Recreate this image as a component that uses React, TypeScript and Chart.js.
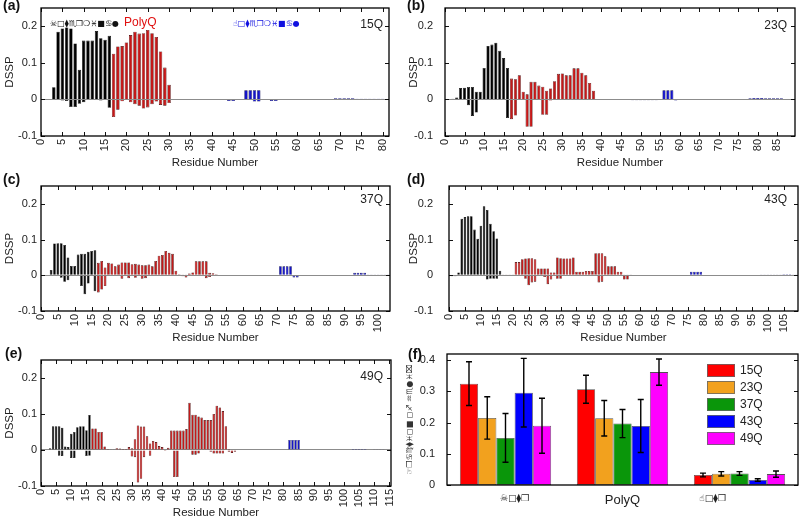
import React, { useEffect, useRef } from "react";
import { Chart, registerables } from "chart.js";
Chart.register(...registerables);

const SANS = "'Liberation Sans', Arial, Helvetica, sans-serif";
const SYM = "'DejaVu Sans', 'Liberation Sans', sans-serif";

// ---------------- DATA ----------------
// Residue counts of each construct (x axis runs to count + 0.5)
const N15 = 81;
const N23 = 89;
const N37 = 103;
const N43 = 109;
const N49 = 115;

// DSSP per residue, residue 1 first. pos = positive part, neg = negative part
const pos15 = [0, 0, 0.033, 0.185, 0.194, 0.197, 0.194, 0.153, 0.081, 0.161,
  0.161, 0.161, 0.187, 0.167, 0.163, 0.174, 0.125, 0.145, 0.146, 0.156,
  0.176, 0.185, 0.18, 0.181, 0.19, 0.181, 0.171, 0.131, 0.087, 0.04,
  0.001, 0, 0, 0, 0, 0, 0, 0, 0, 0,
  0, 0, 0, 0, 0, 0, 0, 0.025, 0.025, 0.025,
  0.025, 0, 0, 0, 0, 0, 0, 0, 0, 0,
  0, 0, 0, 0, 0, 0, 0, 0, 0.003, 0.003,
  0.003, 0.003, 0.003, 0.002, 0.002, 0.002, 0.002, 0.002, 0.002, 0.002];
const neg15 = [0, 0, 0, 0, -0.003, -0.004, -0.021, -0.021, -0.012, -0.008,
  0, 0, 0, -0.003, 0, -0.023, -0.048, -0.028, -0.005, 0,
  -0.008, -0.013, -0.017, -0.025, -0.022, -0.013, -0.006, -0.015, -0.017, -0.01,
  0, 0, 0, 0, 0, 0, 0, 0, 0, 0,
  0, 0, 0, -0.004, -0.004, 0, 0, 0, 0, -0.006,
  -0.006, 0, 0, -0.004, -0.004];

const pos23 = [0, 0.002, 0.005, 0.031, 0.032, 0.034, 0.034, 0.021, 0.021, 0.086,
  0.146, 0.15, 0.155, 0.133, 0.113, 0.086, 0.057, 0.055, 0.066, 0.021,
  0.014, 0.048, 0.048, 0.038, 0.035, 0.024, 0.03, 0.05, 0.07, 0.071,
  0.066, 0.066, 0.085, 0.085, 0.073, 0.066, 0.045, 0.024, 0, 0,
  0, 0, 0, 0, 0, 0, 0, 0, 0, 0,
  0, 0, 0, 0, 0, 0.025, 0.025, 0.025, 0, 0,
  0, 0, 0, 0, 0, 0, 0, 0, 0, 0,
  0, 0, 0, 0, 0, 0, 0, 0.003, 0.004, 0.004,
  0.004, 0.003, 0.003, 0.003, 0.003, 0.003];
const neg23 = [0, 0, 0, 0, 0, -0.016, -0.045, -0.036, 0, 0,
  0, 0, 0, 0, 0, -0.051, -0.054, -0.044, 0, 0,
  -0.075, -0.075, 0, 0, -0.042, -0.042, -0.003, 0, 0, 0,
  0, 0, 0, 0, 0, 0, 0, 0, 0, 0,
  0, 0, 0, 0, 0, 0, 0, -0.002, -0.002, -0.002,
  -0.002, -0.002, -0.002, -0.002, 0, 0, 0, 0, -0.003];

const pos37 = [0, 0, 0.015, 0.089, 0.09, 0.09, 0.085, 0.05, 0.026, 0.026,
  0.058, 0.06, 0.06, 0.066, 0.068, 0.07, 0.035, 0.04, 0.022, 0.035,
  0.033, 0.025, 0.03, 0.036, 0.036, 0.036, 0.031, 0.032, 0.03, 0.028,
  0.028, 0.03, 0.025, 0.04, 0.055, 0.057, 0.068, 0.063, 0.06, 0.013,
  0.003, 0.002, 0.002, 0.005, 0.008, 0.039, 0.039, 0.039, 0.039, 0.007,
  0.006, 0.003, 0, 0, 0, 0, 0, 0, 0, 0,
  0, 0, 0, 0, 0, 0, 0, 0, 0, 0,
  0.025, 0.025, 0.025, 0.025, 0, 0, 0, 0, 0, 0,
  0, 0, 0, 0, 0, 0, 0, 0, 0, 0,
  0, 0, 0.007, 0.007, 0.007, 0.007, 0.002, 0.002, 0.002, 0.002,
  0.002, 0.002, 0.002];
const neg37 = [0, 0, 0, 0, 0, -0.007, -0.018, -0.014, 0, 0,
  0, -0.03, -0.053, -0.023, 0, -0.045, -0.048, -0.04, -0.03, 0,
  0, 0, 0, -0.01, 0, -0.008, 0, -0.007, 0, -0.01,
  -0.008, 0, 0, 0, 0, 0, 0, 0, 0, 0,
  0, -0.003, -0.006, 0, 0, 0, 0, 0, -0.008, -0.005,
  0, 0, 0, 0, 0, 0, 0, 0, 0, 0,
  0, 0, 0, 0, 0, 0, 0, 0, 0, 0,
  0, 0, 0, 0, -0.006, -0.006];

const pos43 = [0, 0, 0.008, 0.158, 0.163, 0.165, 0.165, 0.128, 0.102, 0.139,
  0.193, 0.183, 0.144, 0.123, 0.103, 0.013, 0.002, 0.002, 0.002, 0.002,
  0.037, 0.037, 0.045, 0.047, 0.048, 0.048, 0.045, 0.019, 0.019, 0.019,
  0.019, 0.008, 0.008, 0.05, 0.048, 0.047, 0.047, 0.047, 0.05, 0.01,
  0.01, 0.01, 0.012, 0.012, 0.012, 0.062, 0.062, 0.062, 0.053, 0.025,
  0.025, 0.025, 0.01, 0.01, 0.002, 0.002, 0.002, 0, 0, 0,
  0, 0, 0, 0, 0, 0, 0, 0, 0, 0,
  0, 0, 0, 0, 0, 0.01, 0.01, 0.01, 0.01, 0,
  0, 0, 0, 0, 0, 0, 0, 0, 0, 0,
  0, 0, 0, 0, 0, 0, 0, 0.002, 0.002, 0.002,
  0.002, 0.002, 0.002, 0.002, 0.003, 0.003, 0.003, 0.002, 0.002];
const neg43 = [-0.003, -0.003, 0, 0, 0, 0, 0, 0, 0, 0,
  0, -0.012, -0.01, -0.01, -0.01, 0, 0, 0, 0, 0,
  0, 0, 0, -0.01, -0.028, -0.02, -0.018, 0, 0, -0.005,
  -0.025, -0.012, 0, -0.01, -0.01, 0, 0, 0, 0, 0,
  0, 0, 0, 0, 0, 0, -0.02, -0.018, 0, 0,
  0, 0, 0, 0, -0.012, -0.012];

const pos49 = [0, 0, 0.005, 0.066, 0.066, 0.066, 0.062, 0.01, 0.008, 0.045,
  0.05, 0.063, 0.066, 0.066, 0.055, 0.097, 0.06, 0.06, 0.05, 0.05,
  0.01, 0.003, 0.002, 0.002, 0.005, 0.004, 0.003, 0.003, 0.008, 0.005,
  0.03, 0.068, 0.065, 0.065, 0.038, 0.018, 0.025, 0.022, 0.011, 0.008,
  0, 0.006, 0.054, 0.054, 0.054, 0.054, 0.054, 0.058, 0.131, 0.098,
  0.098, 0.093, 0.09, 0.083, 0.083, 0.083, 0.1, 0.123, 0.118, 0.108,
  0.066, 0.003, 0, 0, 0, 0, 0, 0, 0, 0,
  0, 0, 0, 0, 0, 0, 0, 0, 0, 0,
  0, 0.028, 0.028, 0.028, 0.028, 0, 0, 0, 0, 0,
  0, 0, 0, 0, 0, 0, 0, 0, 0, 0,
  0, 0, 0.003, 0.003, 0.003, 0.003, 0.003, 0, 0, 0.002,
  0.002, 0.002, 0.002];
const neg49 = [0, 0, 0, 0, 0, -0.016, -0.017, 0, 0, -0.022,
  -0.022, 0, 0, 0, -0.017, -0.016, 0, 0, 0, 0,
  0, 0, 0, 0, 0, 0, 0, 0, 0, -0.018,
  -0.02, -0.09, -0.08, -0.02, 0, -0.016, 0, 0, 0, 0,
  -0.003, 0, 0, -0.075, -0.075, 0, 0, 0, 0, -0.013,
  -0.013, -0.01, 0, 0, 0, -0.005, -0.01, -0.01, -0.01, -0.01,
  0, -0.005, -0.008, -0.005];

// Panel (f): average per region
const regionLabels = ["\u2003\u2003☠□⧫❒", "PolyQ", "☝□⧫❒\u2003\u2003\u2003\u2003\u2003\u2003"];
const constructs = ["15Q", "23Q", "37Q", "43Q", "49Q"];
const avg15 = [0.325, 0.307, 0.032];
const err15 = [0.07, 0.045, 0.006];
const avg23 = [0.215, 0.214, 0.036];
const err23 = [0.068, 0.057, 0.007];
const avg37 = [0.151, 0.197, 0.037];
const err37 = [0.078, 0.045, 0.006];
const avg43 = [0.296, 0.189, 0.016];
const err43 = [0.11, 0.085, 0.004];
const avg49 = [0.19, 0.362, 0.035];
const err49 = [0.088, 0.042, 0.01];

const yTicksResidue = [-0.1, 0, 0.1, 0.2];

const N_TERM_TEXT = "☠□⧫♏❒❍♓■♋●";
const C_TERM_TEXT = "☝□⧫♏❒❍♓■♋●";
const F_YTITLE = "☞❒♋♍⧫♓◻■ ◻♐ ♒♏●♓⌧";

// ---------------- helpers ----------------
type TextItem = { text: string; x: number; y: number; font: string; color: string; align?: CanvasTextAlign };

function textsPlugin(items: TextItem[], ox: number, oy: number) {
  return {
    id: "texts",
    afterDraw(chart: any) {
      const ctx = chart.ctx;
      ctx.save();
      for (const it of items) {
        ctx.font = it.font;
        ctx.fillStyle = it.color;
        ctx.textAlign = it.align || "left";
        ctx.textBaseline = "alphabetic";
        ctx.fillText(it.text, it.x - ox, it.y - oy);
      }
      ctx.restore();
    },
  };
}

function framePlugin(xTicks: boolean) {
  return {
    id: "frameTicks",
    afterDatasetsDraw(chart: any) {
      const { ctx, chartArea: a, scales } = chart;
      const tl = 4;
      ctx.save();
      ctx.strokeStyle = "#111";
      ctx.lineWidth = 1;
      ctx.beginPath();
      if (xTicks) {
        const xs = scales.x;
        for (const t of xs.ticks) {
          const p = Math.round(xs.getPixelForValue(t.value)) + 0.5;
          ctx.moveTo(p, a.bottom);
          ctx.lineTo(p, a.bottom - tl);
          ctx.moveTo(p, a.top);
          ctx.lineTo(p, a.top + tl);
        }
      }
      const ys = scales.y;
      for (const t of ys.ticks) {
        const p = Math.round(ys.getPixelForValue(t.value)) + 0.5;
        ctx.moveTo(a.left, p);
        ctx.lineTo(a.left + tl, p);
        ctx.moveTo(a.right, p);
        ctx.lineTo(a.right - tl, p);
      }
      ctx.stroke();
      ctx.lineWidth = 1.3;
      ctx.strokeStyle = "#000";
      ctx.strokeRect(a.left, a.top, a.right - a.left, a.bottom - a.top);
      ctx.restore();
    },
  };
}

const fmtY = (v: any) => {
  const n = Number(v);
  return Math.abs(n) < 1e-9 ? "0" : String(Math.round(n * 10) / 10);
};

type Rect = { x: number; y: number; w: number; h: number };
type PanelDef = { key: string; rect: Rect; make: () => any };

function residuePanel(
  key: string, L: number, T: number, R: number, B: number,
  n: number, q: number, pos: number[], neg: number[], texts: TextItem[],
  yw = 40, tickPad = 4
): PanelDef {
  const xh = 34, pt = 14, pr = 8;
  const rect = { x: L - yw, y: T - pt, w: R + pr - (L - yw), h: B + xh - (T - pt) };
  const make = () => {
    const residues = Array.from({ length: n }, (_, i) => i + 1);
    const region = (r: number) => (r <= 16 ? 0 : r <= 16 + q ? 1 : 2);
    const fill = ["#000000", "#c41818", "#1414c8"];
    const edge = ["#000000", "#3a0000", "#000050"];
    const ds = (label: string, vals: number[]) => ({
      label,
      data: residues.map((r, i) => ({ x: r, y: vals[i] ?? 0 })),
      backgroundColor: (c: any) => fill[region(c.raw ? c.raw.x : 1)],
      borderColor: (c: any) => edge[region(c.raw ? c.raw.x : 1)],
      borderWidth: 0.6,
      barPercentage: 0.8,
      categoryPercentage: 1,
    });
    return {
      type: "bar",
      data: { datasets: [ds("Positive", pos), ds("Negative", neg)] },
      options: {
        responsive: false,
        maintainAspectRatio: false,
        animation: false,
        layout: { padding: { top: pt, right: pr, left: 0, bottom: 0 } },
        plugins: { legend: { display: false }, tooltip: { enabled: false } },
        scales: {
          x: {
            type: "linear",
            stacked: true,
            offset: false,
            min: 0,
            max: n + 0.5,
            grid: { display: false, drawTicks: false },
            border: { display: false },
            ticks: {
              stepSize: 5,
              includeBounds: false,
              autoSkip: false,
              minRotation: 90,
              maxRotation: 90,
              padding: 3,
              color: "#222",
              font: { family: SANS, size: 11 },
            },
            title: {
              display: true,
              text: "Residue Number",
              color: "#222",
              font: { family: SANS, size: 11.5 },
              padding: { top: 0, bottom: 0 },
            },
            afterFit: (s: any) => {
              s.height = xh;
              s.paddingLeft = 0; s.paddingRight = 0; s.paddingTop = 0; s.paddingBottom = 0;
            },
          },
          y: {
            stacked: true,
            min: -0.1,
            max: 0.25,
            afterBuildTicks: (s: any) => {
              s.ticks = yTicksResidue.map((v) => ({ value: v }));
            },
            grid: {
              drawTicks: false,
              color: (c: any) => (c.tick && Math.abs(c.tick.value) < 1e-9 ? "#8c8c8c" : "rgba(0,0,0,0)"),
              lineWidth: 1,
            },
            border: { display: false },
            ticks: { padding: tickPad, color: "#222", font: { family: SANS, size: 11 }, callback: fmtY },
            title: {
              display: true,
              text: "DSSP",
              color: "#222",
              font: { family: SANS, size: 11.5 },
              padding: { top: 2, bottom: 0 },
            },
            afterFit: (s: any) => {
              s.width = yw;
              s.paddingLeft = 0; s.paddingRight = 0; s.paddingTop = 0; s.paddingBottom = 0;
            },
          },
        },
      },
      plugins: [framePlugin(true), textsPlugin(texts, rect.x, rect.y)],
    };
  };
  return { key, rect, make };
}

function summaryPanel(): PanelDef {
  const L = 447, T = 354, R = 798, B = 485;
  const yw = 46, xh = 33, pt = 14, pr = 2;
  const rect = { x: L - yw, y: T - pt, w: R + pr - (L - yw), h: B + xh - (T - pt) };
  const colors = ["#ff0000", "#f2a11e", "#0a960a", "#0000ff", "#ff00ff"];
  const avgs = [avg15, avg23, avg37, avg43, avg49];
  const errs = [err15, err23, err37, err43, err49];
  const texts: TextItem[] = [
    { text: "(f)", x: 408, y: 359, font: `bold 14px ${SANS}`, color: "#111" },
  ];
  const errPlugin = {
    id: "errbars",
    afterDatasetsDraw(chart: any) {
      const { ctx } = chart;
      const ys = chart.scales.y;
      ctx.save();
      ctx.strokeStyle = "#000";
      ctx.lineWidth = 1.4;
      chart.data.datasets.forEach((ds: any, di: number) => {
        const meta = chart.getDatasetMeta(di);
        meta.data.forEach((bar: any, j: number) => {
          const v = ds.data[j];
          const e = errs[di][j];
          const x = bar.x;
          const yt = ys.getPixelForValue(v + e);
          const yb = ys.getPixelForValue(v - e);
          ctx.beginPath();
          ctx.moveTo(x, yt); ctx.lineTo(x, yb);
          ctx.moveTo(x - 3, yt); ctx.lineTo(x + 3, yt);
          ctx.moveTo(x - 3, yb); ctx.lineTo(x + 3, yb);
          ctx.stroke();
        });
      });
      ctx.restore();
    },
  };
  const legendPlugin = {
    id: "boxLegend",
    afterDraw(chart: any) {
      const { ctx } = chart;
      ctx.save();
      chart.data.datasets.forEach((ds: any, i: number) => {
        const x = 707 - rect.x, y = 364 + 17 * i - rect.y;
        ctx.fillStyle = ds.backgroundColor;
        ctx.fillRect(x, y, 28, 13);
        ctx.strokeStyle = "#666";
        ctx.lineWidth = 0.8;
        ctx.strokeRect(x + 0.5, y + 0.5, 27, 12);
        ctx.fillStyle = "#222";
        ctx.font = `12px ${SANS}`;
        ctx.textBaseline = "middle";
        ctx.textAlign = "left";
        ctx.fillText(ds.label, x + 33, y + 7);
      });
      ctx.restore();
    },
  };
  const make = () => ({
    type: "bar",
    data: {
      labels: regionLabels,
      datasets: constructs.map((c, i) => ({
        label: c,
        data: avgs[i],
        backgroundColor: colors[i],
        borderColor: "rgba(40,40,40,0.8)",
        borderWidth: 0.8,
        borderSkipped: false,
        barPercentage: 1,
        categoryPercentage: 0.78,
      })),
    },
    options: {
      responsive: false,
      maintainAspectRatio: false,
      animation: false,
      layout: { padding: { top: pt, right: pr, left: 0, bottom: 0 } },
      plugins: { legend: { display: false }, tooltip: { enabled: false } },
      scales: {
        x: {
          type: "category",
          offset: true,
          grid: { display: false, drawTicks: false },
          border: { display: false },
          ticks: {
            padding: 8,
            color: "#222",
            font: (c: any) => (c.index === 1 ? { family: SANS, size: 13 } : { family: SYM, size: 9 }),
          },
          afterFit: (s: any) => {
            s.height = xh;
            s.paddingLeft = 0; s.paddingRight = 0; s.paddingTop = 0; s.paddingBottom = 0;
          },
        },
        y: {
          min: 0,
          max: 0.42,
          grid: { display: false },
          border: { display: false },
          ticks: { stepSize: 0.1, includeBounds: false, padding: 4, color: "#222", font: { family: SANS, size: 11 }, callback: fmtY },
          title: {
            display: true,
            text: F_YTITLE,
            color: "#333",
            font: { family: SYM, size: 8 },
            padding: { top: 4, bottom: 0 },
          },
          afterFit: (s: any) => {
            s.width = yw;
            s.paddingLeft = 0; s.paddingRight = 0; s.paddingTop = 0; s.paddingBottom = 0;
          },
        },
      },
    },
    plugins: [framePlugin(false), errPlugin, legendPlugin, textsPlugin(texts, rect.x, rect.y)],
  });
  return { key: "f", rect, make };
}

const tagFont = `bold 14px ${SANS}`;
const qFont = `12px ${SANS}`;

const panels: PanelDef[] = [
  residuePanel("a", 41, 8, 389, 136, N15, 15, pos15, neg15, [
    { text: "(a)", x: 3, y: 10, font: tagFont, color: "#111" },
    { text: "15Q", x: 383, y: 28, font: qFont, color: "#222", align: "right" },
    { text: N_TERM_TEXT, x: 50, y: 26, font: `8px ${SYM}`, color: "#111" },
    { text: "PolyQ", x: 124, y: 26, font: `12px ${SANS}`, color: "#e01010" },
    { text: C_TERM_TEXT, x: 233, y: 26, font: `8px ${SYM}`, color: "#1010e0" },
  ]),
  residuePanel("b", 445, 8, 795, 136, N23, 23, pos23, neg23, [
    { text: "(b)", x: 407, y: 10, font: tagFont, color: "#111" },
    { text: "23Q", x: 787, y: 29, font: qFont, color: "#222", align: "right" },
  ], 40, 12),
  residuePanel("c", 41, 186, 390, 311, N37, 37, pos37, neg37, [
    { text: "(c)", x: 3, y: 184, font: tagFont, color: "#111" },
    { text: "37Q", x: 383, y: 203, font: qFont, color: "#222", align: "right" },
  ]),
  residuePanel("d", 449, 186, 798, 311, N43, 43, pos43, neg43, [
    { text: "(d)", x: 407, y: 184, font: tagFont, color: "#111" },
    { text: "43Q", x: 787, y: 203, font: qFont, color: "#222", align: "right" },
  ], 44, 16),
  residuePanel("e", 41, 360, 391, 486, N49, 49, pos49, neg49, [
    { text: "(e)", x: 5, y: 358, font: tagFont, color: "#111" },
    { text: "49Q", x: 383, y: 380, font: qFont, color: "#222", align: "right" },
  ]),
  summaryPanel(),
];

function ChartBox({ rect, make }: { rect: Rect; make: () => any }) {
  const ref = useRef<HTMLCanvasElement | null>(null);
  useEffect(() => {
    const chart = new Chart(ref.current as HTMLCanvasElement, make());
    return () => chart.destroy();
  }, []);
  return (
    <canvas
      ref={ref}
      width={rect.w}
      height={rect.h}
      style={{ position: "absolute", left: rect.x, top: rect.y, width: rect.w, height: rect.h }}
    />
  );
}

export default function App() {
  return (
    <div style={{ position: "absolute", left: 0, top: 0, width: 800, height: 518, overflow: "hidden", background: "#fff" }}>
      {panels.map((p) => (
        <ChartBox key={p.key} rect={p.rect} make={p.make} />
      ))}
    </div>
  );
}
